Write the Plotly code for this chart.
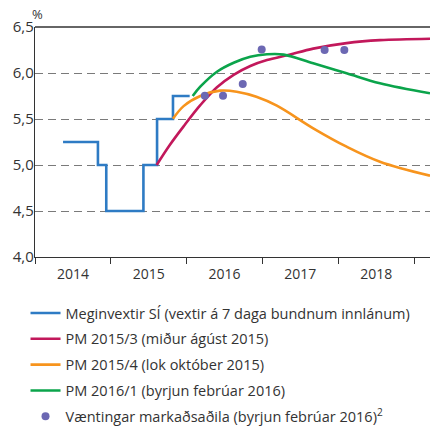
import plotly.graph_objects as go

# Policy rate (step series)
rate_x = [2014.37, 2014.83, 2014.94, 2015.43, 2015.61, 2015.82, 2016.04]
rate_y = [5.25, 5.0, 4.5, 5.0, 5.5, 5.75, 5.75]

# PM 2015/3
pm153_x = [2015.605, 2015.78, 2015.96, 2016.18, 2016.40, 2016.62, 2016.84, 2017.06, 2017.34, 2017.67, 2018.11, 2018.55, 2019.21]
pm153_y = [5.0, 5.22, 5.42, 5.65, 5.845, 5.98, 6.076, 6.14, 6.195, 6.265, 6.325, 6.357, 6.373]

# PM 2015/4
pm154_x = [2015.82, 2015.96, 2016.18, 2016.44, 2016.66, 2016.92, 2017.19, 2017.67, 2018.11, 2018.55, 2019.21]
pm154_y = [5.503, 5.64, 5.75, 5.808, 5.797, 5.742, 5.645, 5.399, 5.199, 5.036, 4.884]

# PM 2016/1
pm161_x = [2016.08, 2016.18, 2016.40, 2016.62, 2016.84, 2017.06, 2017.28, 2017.67, 2018.11, 2018.55, 2019.21]
pm161_y = [5.75, 5.851, 6.014, 6.112, 6.177, 6.203, 6.200, 6.105, 5.997, 5.888, 5.779]

# Market expectations
exp_x = [2016.24, 2016.48, 2016.74, 2016.99, 2017.82, 2018.08]
exp_y = [5.753, 5.753, 5.88, 6.255, 6.25, 6.25]

year_labels = ["2014", "2015", "2016", "2017", "2018"]
year_label_pos = [2014.5, 2015.5, 2016.5, 2017.5, 2018.5]
year_ticks = [2014, 2015, 2016, 2017, 2018, 2019]
y_ticks = [4.0, 4.5, 5.0, 5.5, 6.0, 6.5]
y_tick_text = ["4,0", "4,5", "5,0", "5,5", "6,0", "6,5"]

names = [
    "Meginvextir SÍ (vextir á 7 daga bundnum innlánum)",
    "PM 2015/3 (miður ágúst 2015)",
    "PM 2015/4 (lok október 2015)",
    "PM 2016/1 (byrjun febrúar 2016)",
    "Væntingar markaðsaðila (byrjun febrúar 2016)<sup>2</sup>",
]
colors = ["#2e7bc4", "#c2185b", "#f7941d", "#0ba44b", "#6c68b3"]

FONT = "Open Sans"
TXT = "#333333"
LW = 2.6

fig = go.Figure()
fig.add_trace(go.Scatter(x=rate_x, y=rate_y, mode="lines", line=dict(color=colors[0], width=LW, shape="hv"),
                         name=names[0], legendgroup="a"))
fig.add_trace(go.Scatter(x=pm153_x, y=pm153_y, mode="lines",
                         line=dict(color=colors[1], width=LW, shape="spline", smoothing=1.0),
                         name=names[1], legendgroup="b"))
fig.add_trace(go.Scatter(x=pm154_x, y=pm154_y, mode="lines",
                         line=dict(color=colors[2], width=LW, shape="spline", smoothing=1.0),
                         name=names[2], legendgroup="c"))
fig.add_trace(go.Scatter(x=pm161_x, y=pm161_y, mode="lines",
                         line=dict(color=colors[3], width=LW, shape="spline", smoothing=1.0),
                         name=names[3], legendgroup="d"))
fig.add_trace(go.Scatter(x=exp_x, y=exp_y, mode="markers", marker=dict(color=colors[4], size=8),
                         name=names[4], legendgroup="e"))

fig.update_layout(
    width=430, height=445,
    margin=dict(l=35, r=0, t=27, b=188, autoexpand=False),
    paper_bgcolor="white", plot_bgcolor="white",
    font=dict(family=FONT, color=TXT, size=14),
    showlegend=True,
    legend=dict(x=-0.024, y=-0.174, xanchor="left", yanchor="top",
                traceorder="grouped", tracegroupgap=4,
                font=dict(family=FONT, size=14.5, color=TXT), itemwidth=30),
    xaxis=dict(range=[2014, 2019.21], tickmode="array", tickvals=year_label_pos, ticktext=year_labels,
               ticks="", ticklabelstandoff=4, showgrid=False, zeroline=False, showline=True,
               linecolor="#333", linewidth=1.3,
               tickfont=dict(size=14, color=TXT), fixedrange=True,
               minor=dict(tickmode="array", tickvals=year_ticks, ticks="outside", ticklen=6,
                          tickcolor="#333", tickwidth=1.3, showgrid=False)),
    yaxis=dict(range=[4.0, 6.5], tickmode="array", tickvals=y_ticks, ticktext=y_tick_text,
               showgrid=True, gridcolor="#7a7a7a", gridwidth=1.3, griddash="8px,5px",
               zeroline=False, showline=True, linecolor="#333", linewidth=1.3,
               ticks="", ticklabelstandoff=-3, tickfont=dict(size=15, color=TXT), fixedrange=True),
    shapes=[dict(type="line", xref="paper", yref="paper", x0=0, x1=1, y0=1, y1=1,
                 line=dict(color="#333", width=1.3))],
    annotations=[dict(text="%", xref="paper", yref="paper", x=0.0, y=1.0, xanchor="center", yanchor="bottom",
                      xshift=2, yshift=2, showarrow=False, font=dict(size=13, color=TXT))],
)

fig.write_html("out.html", config={"displayModeBar": False},
               post_script="document.body.style.margin='0';document.body.style.overflow='hidden';")
